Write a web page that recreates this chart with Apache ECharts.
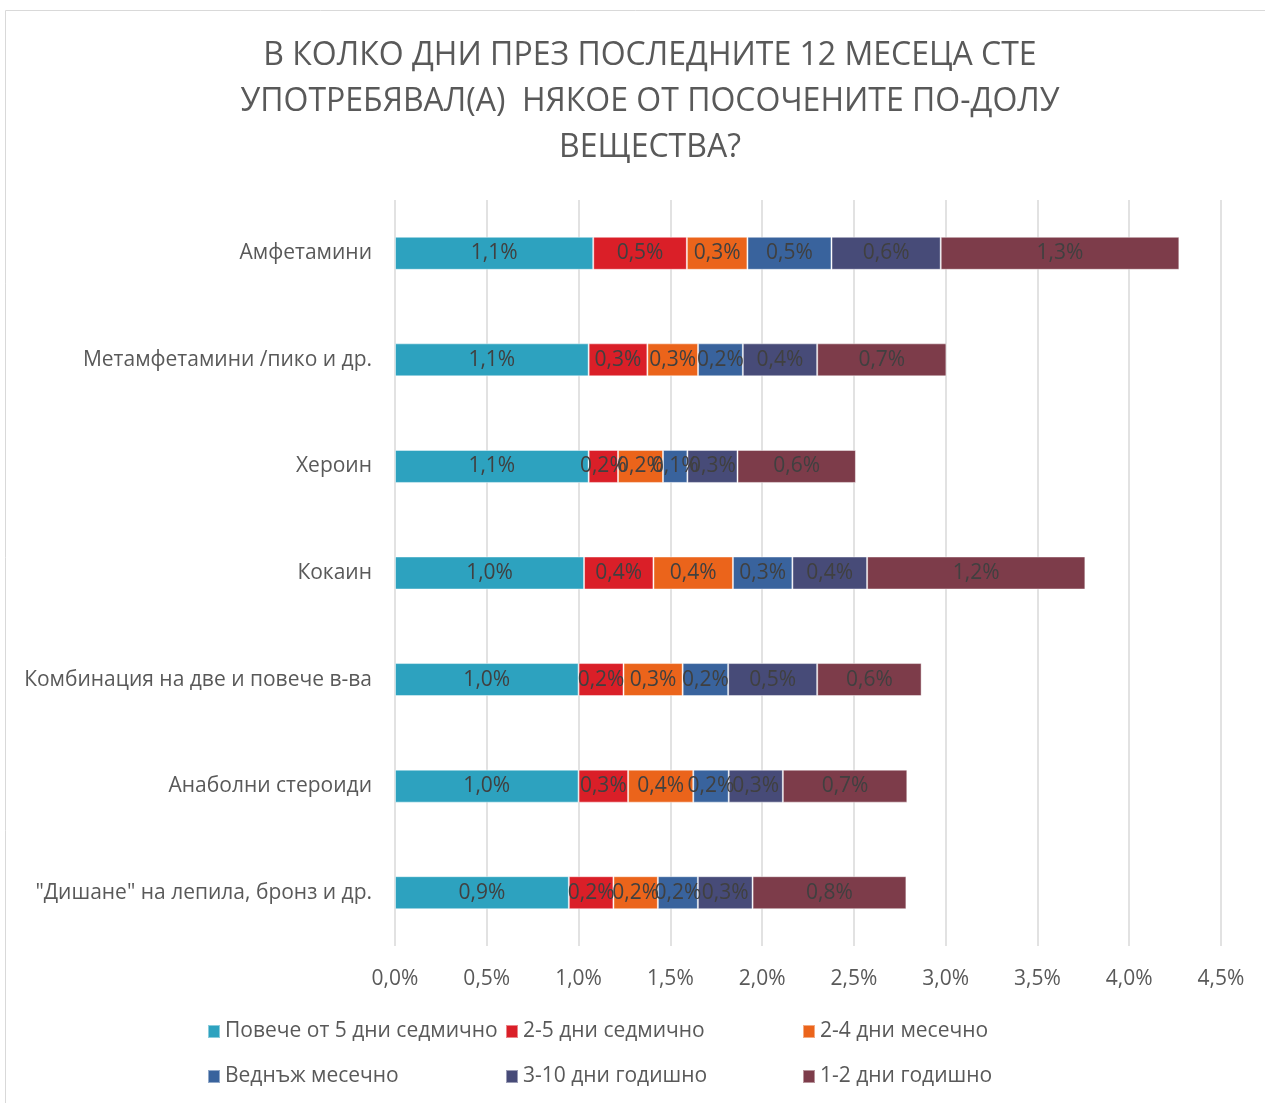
<!DOCTYPE html>
<html>
<head>
<meta charset="utf-8">
<script src="https://cdn.jsdelivr.net/npm/echarts@6/dist/echarts.min.js"></script>
<style>
  html, body { margin: 0; padding: 0; background: #fff; }
  #chart { width: 1265px; height: 1103px; }
</style>
</head>
<body>
<div id="chart"></div>
<script>
// категории и стойности (в %)
var categories = ['Амфетамини', 'Метамфетамини /пико и др.', 'Хероин', 'Кокаин',
    'Комбинация на две и повече в-ва', 'Анаболни стероиди', '"Дишане" на лепила, бронз и др.'];
var seriesNames = ['Повече от 5 дни седмично', '2-5 дни седмично', '2-4 дни месечно',
    'Веднъж месечно', '3-10 дни годишно', '1-2 дни годишно'];
var weekly5 = [1.08, 1.055, 1.055, 1.03, 1.0, 1.0, 0.947];
var weekly2to5 = [0.51, 0.32, 0.16, 0.378, 0.245, 0.27, 0.243];
var monthly2to4 = [0.33, 0.276, 0.245, 0.433, 0.322, 0.355, 0.242];
var monthlyOnce = [0.458, 0.244, 0.133, 0.324, 0.248, 0.193, 0.218];
var yearly3to10 = [0.595, 0.405, 0.273, 0.407, 0.485, 0.295, 0.298];
var yearly1to2 = [1.3, 0.704, 0.645, 1.189, 0.569, 0.678, 0.838];
var colors = ['#2DA2BF', '#DA1F28', '#EB641B', '#39639D', '#474B78', '#7D3C4A'];

var allValues = [weekly5, weekly2to5, monthly2to4, monthlyOnce, yearly3to10, yearly1to2];
var FONT = '"Open Sans", "Noto Sans", sans-serif';

function pct(v) {
    return v.toFixed(1).replace('.', ',') + '%';
}

var chart = echarts.init(document.getElementById('chart'));

// легенда - 2 реда по 3 колони
var legendLeft = [207, 505, 802];
var legendTop = [1021, 1066];
var legends = seriesNames.map(function (name, i) {
    return {
        data: [name],
        left: legendLeft[i % 3],
        top: legendTop[Math.floor(i / 3)],
        padding: 0,
        icon: 'rect',
        itemWidth: 12,
        itemHeight: 13,
        selectedMode: false,
        textStyle: { fontFamily: FONT, fontSize: 21, color: '#595959' }
    };
});

var series = seriesNames.map(function (name, i) {
    return {
        name: name,
        type: 'bar',
        stack: 'total',
        barWidth: 33,
        data: allValues[i],
        itemStyle: {
            color: colors[i],
            borderColor: 'rgba(255,255,255,0.45)',
            borderWidth: 1
        },
        label: {
            show: true,
            position: 'inside',
            fontFamily: FONT,
            fontSize: 21,
            color: '#404040',
            formatter: function (p) { return pct(p.value); }
        }
    };
});

var option = {
    animation: false,
    textStyle: { fontFamily: FONT },
    title: {
        text: 'В КОЛКО ДНИ ПРЕЗ ПОСЛЕДНИТЕ 12 МЕСЕЦА СТЕ\nУПОТРЕБЯВАЛ(А)  НЯКОЕ ОТ ПОСОЧЕНИТЕ ПО-ДОЛУ\nВЕЩЕСТВА?',
        left: 645,
        textAlign: 'center',
        top: 28,
        textStyle: {
            fontFamily: FONT,
            fontSize: 32,
            fontWeight: 'normal',
            color: '#595959',
            lineHeight: 46
        }
    },
    legend: legends,
    grid: { left: 395, right: 44, top: 200, bottom: 157 },
    xAxis: {
        type: 'value',
        min: 0,
        max: 4.5,
        interval: 0.5,
        axisLine: { show: false },
        axisTick: { show: false },
        splitLine: { lineStyle: { color: '#D9D9D9', width: 1.5 } },
        axisLabel: {
            fontFamily: FONT,
            fontSize: 21,
            color: '#595959',
            margin: 23,
            formatter: function (v) { return pct(v); }
        }
    },
    yAxis: {
        type: 'category',
        inverse: true,
        data: categories,
        axisLine: { show: false },
        axisTick: { show: false },
        axisLabel: {
            fontFamily: FONT,
            fontSize: 21,
            color: '#595959',
            margin: 23
        }
    },
    graphic: [{
        type: 'rect',
        shape: { x: 5.5, y: 10.5, width: 1300, height: 1200 },
        style: { fill: 'none', stroke: '#D9D9D9', lineWidth: 1 },
        silent: true,
        z: -1
    }],
    series: series
};

chart.setOption(option);
</script>
</body>
</html>
